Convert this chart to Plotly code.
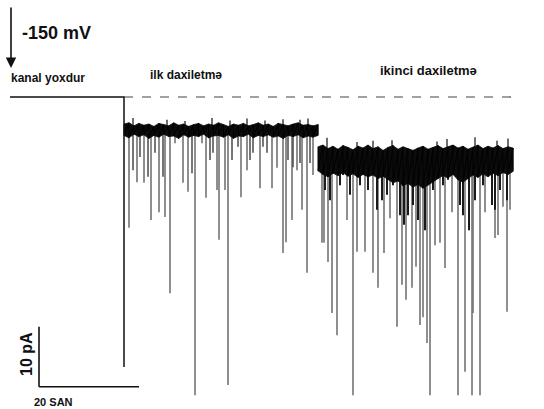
import plotly.graph_objects as go

# ---- data (time in s, current in pA) ----
closed_t = [0.0, 22.8]
closed_i = [0.0, 0.0]

level1_i = -5.5
level2_i = -10.0

# open-channel noise band, segment 1 (first insertion), sampled every ~1 s
band1_t = [round(22.8 + k * (61.6 - 22.8) / 39, 2) for k in range(40)]
band1_top = [-4.5, -4.3, -4.8, -4.4, -4.7, -4.5, -4.9, -4.4, -4.6, -4.8, -4.3, -4.7, -4.5, -4.9, -4.6, -4.4, -4.8, -4.5, -4.7, -4.3,
             -4.6, -4.9, -4.5, -4.7, -4.4, -4.8, -4.6, -4.3, -4.7, -4.5, -4.9, -4.4, -4.6, -4.8, -4.5, -4.3, -4.7, -4.6, -4.8, -4.6]
band1_bot = [-6.4, -6.8, -6.2, -6.6, -6.3, -6.9, -6.4, -6.7, -6.2, -6.6, -6.5, -6.9, -6.3, -6.7, -6.4, -6.6, -6.2, -6.8, -6.5, -6.4,
             -6.7, -6.3, -6.9, -6.5, -6.6, -6.2, -6.8, -6.4, -6.6, -6.3, -6.7, -6.5, -6.9, -6.4, -6.6, -6.3, -6.8, -6.5, -6.7, -6.4]

# segment 2 (second insertion)
band2_t = [round(61.6 + k * (100.6 - 61.6) / 39, 2) for k in range(40)]
band2_top = [-8.3, -8.0, -8.6, -8.2, -8.7, -8.1, -8.4, -8.8, -8.2, -8.5, -8.0, -8.6, -8.3, -8.9, -8.4, -8.1, -8.7, -8.3, -8.6, -8.9,
             -8.5, -8.2, -8.7, -8.4, -8.1, -8.6, -8.3, -8.0, -8.5, -8.2, -8.7, -8.4, -8.0, -8.6, -8.2, -8.5, -8.1, -8.6, -8.3, -8.5]
band2_bot = [-12.3, -12.9, -13.3, -12.7, -13.1, -12.6, -13.2, -12.8, -13.4, -12.9, -13.3, -13.0, -13.6, -13.2, -13.8, -14.3, -14.0, -14.8, -14.4, -15.0,
             -14.6, -15.2, -14.7, -14.2, -13.6, -13.1, -13.5, -12.9, -13.8, -14.2, -13.6, -13.0, -13.4, -12.8, -13.3, -12.7, -13.1, -12.6, -12.9, -12.4]

# upward noise spikes above the bands
up1_t = [24.6, 31.4, 35.0, 40.4, 44.0, 47.4, 51.0, 54.6, 58.0, 59.6]
up1_i = [-3.5, -3.8, -4.0, -3.5, -3.9, -3.6, -3.9, -3.7, -3.8, -3.6]
up2_t = [63.4, 69.4, 72.6, 76.4, 85.4, 87.4, 93.0, 97.4, 99.6]
up2_i = [-6.8, -7.5, -7.3, -7.2, -7.4, -7.0, -6.7, -7.3, -6.9]

# deep events, segment 1
spk1_t = [23.8, 25.4, 26.8, 28.2, 29.8, 31.0, 32.0, 33.0, 34.6, 35.6, 37.0, 38.4, 39.2, 41.4, 41.8, 43.0, 43.6,
          46.2, 47.4, 50.0, 52.4, 53.4, 54.6, 55.2, 56.4, 57.4, 58.4, 59.4, 60.6]
spk1_i = [-21.8, -14.2, -14.3, -20.5, -19.2, -20.0, -32.7, -7.7, -14.3, -15.8, -49.7, -7.7, -16.8, -15.5, -23.8, -15.5, -48.0,
          -16.7, -12.2, -15.2, -15.2, -11.8, -26.0, -24.2, -20.5, -12.2, -18.8, -29.3, -13.0]
# short events, segment 1
sh1_t = [24.6, 26.0, 27.6, 29.0, 30.6, 36.4, 40.0, 40.6, 44.4, 45.6, 48.0, 48.6, 50.6, 51.4, 55.6, 56.6, 58.0, 60.0]
sh1_i = [-12.2, -10.0, -13.3, -9.3, -13.3, -12.7, -10.5, -9.3, -10.5, -8.3, -10.5, -9.3, -8.3, -9.3, -10.5, -11.7, -11.0, -11.0]

# deep events, segment 2
spk2_t = [62.4, 62.8, 63.6, 64.4, 65.4, 67.4, 68.6, 69.4, 71.0, 72.6, 73.6, 74.8, 76.0, 77.4, 78.4, 79.2, 80.4, 81.2,
          82.0, 82.6, 83.4, 84.0, 85.0, 86.0, 87.0, 88.4, 89.6, 91.0, 92.4, 92.6, 94.0, 95.0, 97.0, 97.6, 98.6, 99.4, 100.0]
spk2_i = [-24.3, -24.3, -27.5, -36.0, -39.7, -20.5, -49.7, -25.8, -25.8, -29.3, -31.8, -26.0, -20.2, -38.3, -31.3, -33.8, -31.8, -28.3,
          -38.0, -36.7, -41.0, -49.7, -24.7, -24.3, -28.5, -19.2, -49.7, -45.8, -49.7, -36.0, -49.7, -19.2, -23.5, -23.0, -18.3, -35.8, -18.8]
# short dense events, segment 2
sh2_t = [63.0, 64.0, 66.0, 66.6, 68.0, 70.0, 71.6, 73.4, 74.4, 75.4, 76.6, 78.0, 78.8, 79.6, 80.6, 81.6, 83.0,
         84.6, 86.6, 87.6, 90.0, 90.6, 91.8, 93.0, 94.6, 96.4, 97.0, 98.0, 99.4]
sh2_i = [-15.5, -17.2, -14.7, -13.0, -16.3, -14.7, -15.5, -18.8, -17.2, -16.3, -14.7, -19.7, -21.3, -19.7, -18.0, -20.5, -22.2,
         -15.5, -14.7, -13.8, -18.0, -19.7, -22.2, -17.2, -14.7, -18.0, -18.8, -15.5, -17.2]

first_event_t = 22.8
first_event_i = -45.0

# ---- figure ----
fig = go.Figure()


def events(ts, vals, base):
    xs, ys = [], []
    for t, v in zip(ts, vals):
        xs += [t, t, None]
        ys += [base, v, None]
    return xs, ys


# deep events (gray thin lines)
x1, y1 = events(spk1_t, spk1_i, level1_i)
x2, y2 = events(spk2_t, spk2_i, level2_i)
fig.add_trace(go.Scatter(x=x1 + x2, y=y1 + y2, mode="lines",
                         line=dict(color="#737373", width=1.6), hoverinfo="skip"))
xs1, ys1 = events(sh1_t, sh1_i, level1_i)
fig.add_trace(go.Scatter(x=xs1, y=ys1, mode="lines",
                         line=dict(color="#4a4a4a", width=1.5), hoverinfo="skip"))
xs2, ys2 = events(sh2_t, sh2_i, level2_i)
fig.add_trace(go.Scatter(x=xs2, y=ys2, mode="lines",
                         line=dict(color="#1a1a1a", width=2.0), hoverinfo="skip"))
xu1, yu1 = events(up1_t, up1_i, level1_i)
xu2, yu2 = events(up2_t, up2_i, level2_i)
fig.add_trace(go.Scatter(x=xu1 + xu2, y=yu1 + yu2, mode="lines",
                         line=dict(color="#222222", width=1.3), hoverinfo="skip"))

# noise bands (zig-zag between envelope samples)
for bt, top, bot in [(band1_t, band1_top, band1_bot), (band2_t, band2_top, band2_bot)]:
    zx, zy = [], []
    for t, a, b in zip(bt, top, bot):
        zx += [t, t]
        zy += [a, b]
    fig.add_trace(go.Scatter(x=bt + bt[::-1], y=top + bot[::-1], mode="lines",
                             fill="toself", fillcolor="#0c0c0c",
                             line=dict(color="#0c0c0c", width=0.8), hoverinfo="skip"))
    fig.add_trace(go.Scatter(x=zx, y=zy, mode="lines",
                             line=dict(color="#000000", width=1.0), hoverinfo="skip"))

# closed level and first opening
fig.add_trace(go.Scatter(x=closed_t + [first_event_t, first_event_t],
                         y=closed_i + [0.0, first_event_i], mode="lines",
                         line=dict(color="#111111", width=1.5), hoverinfo="skip"))

# dashed closed-level reference
fig.add_shape(type="line", x0=22.8, x1=101.2, y0=0, y1=0,
              line=dict(color="#444444", width=1.2, dash="dash"))

# scale bars: 10 pA and 20 s
fig.add_shape(type="line", x0=5.8, x1=5.8, y0=-38.3, y1=-48.3,
              line=dict(color="#111111", width=1.6))
fig.add_shape(type="line", x0=5.8, x1=25.8, y0=-48.3, y1=-48.3,
              line=dict(color="#111111", width=1.6))

W, H = 544, 409


def px(x):
    return x / W


def py(y):
    return 1 - y / H


font = "Liberation Sans, Arial, sans-serif"
anns = [
    dict(x=px(20), y=py(33), text="<b>-150 mV</b>", xanchor="left", size=18),
    dict(x=px(48), y=py(78), text="<b>kanal yoxdur</b>", xanchor="center", size=12),
    dict(x=px(186), y=py(75), text="<b>ilk daxiletmə</b>", xanchor="center", size=12),
    dict(x=px(428), y=py(70), text="<b>ikinci daxiletmə</b>", xanchor="center", size=13),
    dict(x=px(53), y=py(402), text="<b>20 SAN</b>", xanchor="center", size=11),
]
for a in anns:
    fig.add_annotation(x=a["x"], y=a["y"], xref="paper", yref="paper", text=a["text"],
                       showarrow=False, xanchor=a["xanchor"], yanchor="middle",
                       font=dict(family=font, size=a["size"], color="#111111"))
fig.add_annotation(x=px(26), y=py(354), xref="paper", yref="paper", text="<b>10 pA</b>",
                   showarrow=False, textangle=-90, xanchor="center", yanchor="middle",
                   font=dict(family=font, size=16, color="#111111"))
# voltage step arrow
fig.add_annotation(x=px(11), y=py(68), xref="paper", yref="paper", text="",
                   showarrow=True, ax=0, ay=-62, arrowhead=2, arrowsize=1.3,
                   arrowwidth=1.6, arrowcolor="#111111")

fig.update_layout(
    width=W, height=H, margin=dict(l=0, r=0, t=0, b=0),
    paper_bgcolor="white", plot_bgcolor="white", showlegend=False,
    xaxis=dict(range=[-2, 106.8], visible=False),
    yaxis=dict(range=[-52, 97 / 6], visible=False),
)
fig.write_html("out.html")
